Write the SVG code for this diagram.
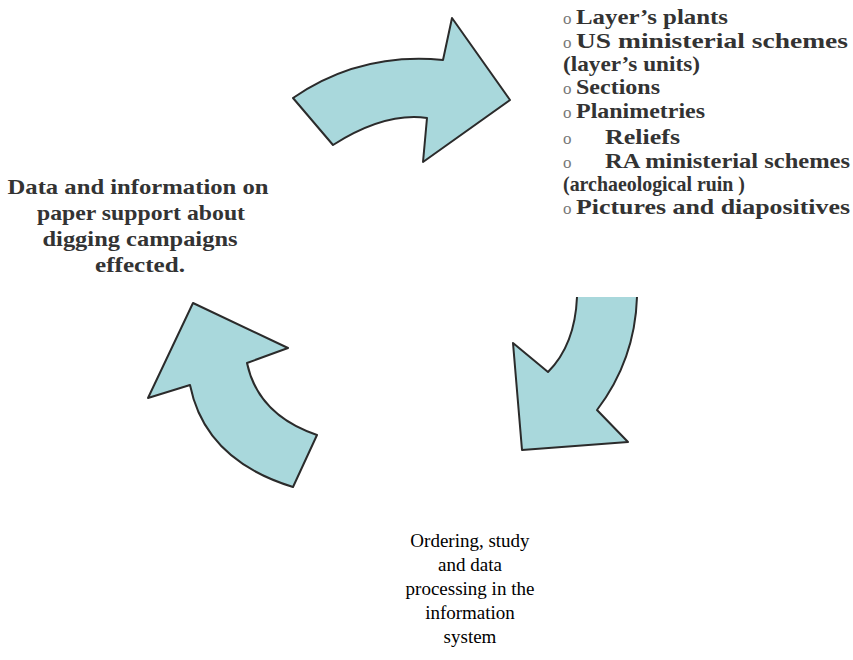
<svg xmlns="http://www.w3.org/2000/svg" width="853" height="660" viewBox="0 0 853 660">
<style>
.arrow{fill:#a9d8dc;stroke:#2b2b2b;stroke-width:2;stroke-linejoin:round}
.list{font-family:"Liberation Serif",serif;font-weight:bold;font-size:21px;fill:#333}
.bul{font-weight:normal;fill:#777;font-size:17px}
.left{font-family:"Liberation Serif",serif;font-weight:bold;font-size:22px;fill:#333;text-anchor:middle}
.bottom{font-family:"Liberation Serif",serif;font-size:19px;fill:#000;text-anchor:middle}
</style>
<rect width="853" height="660" fill="#fff"/>
<g id="connectors">
<path class="arrow" d="M333,145 L293,98 Q360,52 443,60 L452,18 L510,100 L423,162 L427,118 Q385,112 333,145 Z"/>
<path class="arrow" d="M577,297 Q575,345 548,372 L513,343 L522,450 L628,442 L597,410 Q635,360 637,297"/>
<path class="arrow" d="M193,303 L288,348 L247,363 Q258,415 317,435 L293,487 Q205,460 190,385 L148,398 Z"/>
</g>
<g id="node-sources">
<text class="list" x="563" y="24"><tspan class="bul">o</tspan><tspan x="576" textLength="152" lengthAdjust="spacingAndGlyphs">Layer’s plants</tspan></text>
<text class="list" x="563" y="48"><tspan class="bul">o</tspan><tspan x="576" textLength="272" lengthAdjust="spacingAndGlyphs">US ministerial schemes</tspan></text>
<text class="list" x="563" y="71" textLength="137" lengthAdjust="spacingAndGlyphs">(layer’s units)</text>
<text class="list" x="563" y="94"><tspan class="bul">o</tspan><tspan x="576" textLength="84" lengthAdjust="spacingAndGlyphs">Sections</tspan></text>
<text class="list" x="563" y="118"><tspan class="bul">o</tspan><tspan x="576" textLength="129" lengthAdjust="spacingAndGlyphs">Planimetries</tspan></text>
<text class="list" x="563" y="144"><tspan class="bul">o</tspan><tspan x="605" textLength="75" lengthAdjust="spacingAndGlyphs">Reliefs</tspan></text>
<text class="list" x="563" y="168"><tspan class="bul">o</tspan><tspan x="605" textLength="245" lengthAdjust="spacingAndGlyphs">RA ministerial schemes</tspan></text>
<text class="list" x="563" y="191" textLength="182" lengthAdjust="spacingAndGlyphs">(archaeological ruin )</text>
<text class="list" x="563" y="214"><tspan class="bul">o</tspan><tspan x="576" textLength="274" lengthAdjust="spacingAndGlyphs">Pictures and diapositives</tspan></text>
</g>
<g id="node-paper">
<text class="left" x="138" y="194" textLength="261" lengthAdjust="spacingAndGlyphs">Data and information on</text>
<text class="left" x="141" y="220" textLength="208" lengthAdjust="spacingAndGlyphs">paper support about</text>
<text class="left" x="140" y="246" textLength="195" lengthAdjust="spacingAndGlyphs">digging campaigns</text>
<text class="left" x="140" y="272" textLength="90" lengthAdjust="spacingAndGlyphs">effected.</text>
</g>
<g id="node-system">
<text class="bottom" x="470" y="547">Ordering, study</text>
<text class="bottom" x="470" y="571">and data</text>
<text class="bottom" x="470" y="595">processing in the</text>
<text class="bottom" x="470" y="619">information</text>
<text class="bottom" x="470" y="643">system</text>
</g>
</svg>
